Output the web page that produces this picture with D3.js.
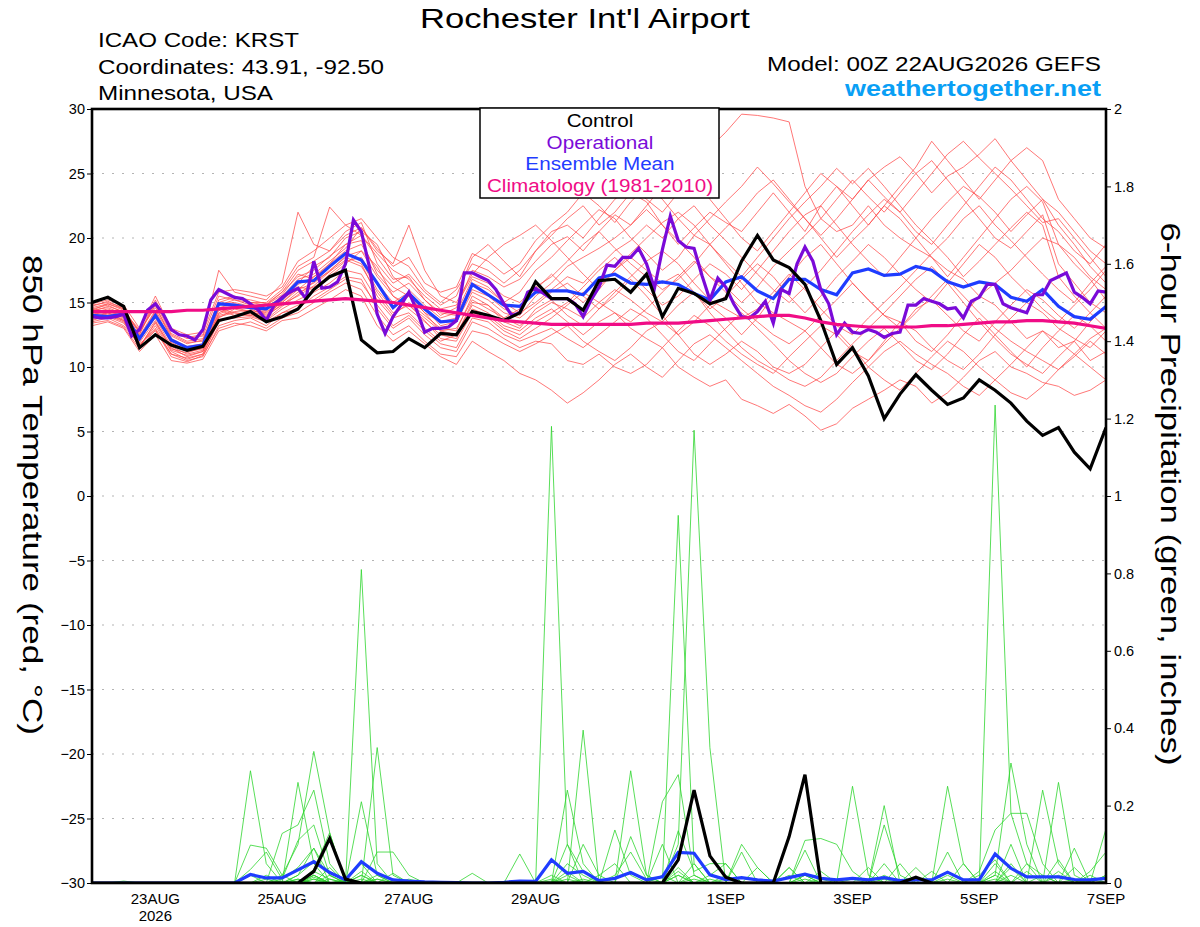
<!DOCTYPE html>
<html>
<head>
<meta charset="utf-8">
<script src="https://cdn.jsdelivr.net/npm/d3@7"></script>
<style>
  body { margin: 0; background: #fff; }
  text { font-family: "Liberation Sans", Arial, Helvetica, sans-serif; }
</style>
</head>
<body>
<svg id="chart" width="1200" height="927"></svg>
<script>
// run info
const RUN_START = Date.UTC(2026, 7, 22, 0);
const RUN_END = Date.UTC(2026, 8, 7, 0);

// x-axis ticks
const tickDates = [[2026, 7, 23], [2026, 7, 25], [2026, 7, 27], [2026, 7, 29], [2026, 8, 1], [2026, 8, 3], [2026, 8, 5], [2026, 8, 7]];
const tickLabels = ['23AUG', '25AUG', '27AUG', '29AUG', '1SEP', '3SEP', '5SEP', '7SEP'];
const tempTicks = [-30, -25, -20, -15, -10, -5, 0, 5, 10, 15, 20, 25, 30];
const precipTicks = [0, 0.2, 0.4, 0.6, 0.8, 1, 1.2, 1.4, 1.6, 1.8, 2];

// 6-hourly control / mean / climatology (850 hPa temp, C)
const controlTemp = [15.0,15.4,14.7,11.5,12.5,11.7,11.3,11.6,13.6,13.9,
  14.3,13.5,13.9,14.5,16.0,17.0,17.5,12.1,11.1,11.2,
  12.2,11.5,12.6,12.5,14.3,14.0,13.6,14.2,16.6,15.3,
  15.3,14.4,16.7,16.8,15.8,17.2,13.9,16.1,15.7,14.9,
  15.3,18.2,20.2,18.3,17.7,16.4,13.6,10.2,11.5,9.3,
  6.0,7.9,9.4,8.2,7.1,7.6,9.0,8.2,7.2,5.8,
  4.7,5.3,3.4,2.1,5.3];

const meanTemp = [14.0,13.9,14.1,12.2,14.0,12.1,11.5,11.7,14.9,14.8,
  14.6,14.5,15.3,16.6,16.7,17.8,18.8,18.3,16.5,14.6,
  15.7,14.5,13.5,13.6,16.4,15.6,14.8,14.7,15.8,15.9,
  15.9,15.6,16.9,17.2,16.5,16.4,16.6,16.4,15.7,15.2,
  16.6,17.0,15.9,15.3,16.8,16.8,16.0,15.6,17.3,17.6,
  17.1,17.2,17.8,17.5,16.6,16.2,16.6,16.4,15.4,15.1,
  16.0,14.7,13.9,13.7,14.7];

const climoTemp = [14.3,14.3,14.3,14.3,14.3,14.3,14.4,14.4,14.5,14.6,
  14.7,14.8,14.9,15.0,15.1,15.2,15.3,15.2,15.1,15.0,
  14.8,14.6,14.4,14.2,14.0,13.8,13.6,13.5,13.4,13.3,
  13.3,13.3,13.3,13.3,13.3,13.4,13.4,13.4,13.5,13.6,
  13.7,13.8,13.9,14.0,14.0,13.8,13.5,13.3,13.2,13.1,
  13.1,13.1,13.1,13.2,13.2,13.3,13.4,13.5,13.5,13.6,
  13.6,13.5,13.4,13.2,13.0];

// 3-hourly operational run
const operationalTemp = [13.9,13.8,13.8,13.9,14.1,12.4,12.9,14.4,14.9,14.1,
  12.9,12.5,12.4,12.1,12.9,15.2,16.0,15.7,15.4,15.3,
  14.9,14.4,13.6,14.8,15.4,15.8,16.1,15.3,18.2,16.1,
  16.2,16.6,18.0,21.4,20.5,17.8,14.1,12.6,13.9,14.8,
  15.8,14.4,12.7,13.0,13.0,13.1,13.6,17.3,17.3,17.0,
  16.7,16.0,14.9,14.0,14.2,15.8,16.1,15.7,15.3,15.3,
  15.3,14.9,13.9,15.2,16.2,17.9,17.8,18.5,18.5,19.2,
  18.0,16.1,19.1,21.7,19.8,19.3,19.2,17.1,15.2,16.9,
  16.2,14.9,13.9,13.8,14.3,15.1,13.4,16.0,15.7,18.0,
  19.3,18.2,16.0,14.9,12.5,13.4,12.7,12.6,12.9,12.7,
  12.3,12.6,12.7,14.8,14.8,15.3,15.1,14.9,14.5,14.6,
  13.8,15.1,15.4,16.4,16.4,14.9,14.6,14.4,14.2,15.6,
  15.6,16.7,17.0,17.3,15.8,15.4,14.9,15.9,15.8];

// 6-hour precipitation (inches)
const controlPrecip = [0,0,0,0,0,0,0,0,0,0,
  0,0,0,0,0.03,0.115,0.01,0,0,0,
  0,0,0,0,0,0,0,0,0,0,
  0,0,0,0,0,0,0,0.06,0.24,0.07,
  0.015,0,0,0,0.12,0.28,0,0,0,0,
  0,0,0.015,0,0,0,0,0,0,0,
  0,0,0,0,0];

const meanPrecip = [0,0,0,0,0,0,0,0,0,0,
  0.022,0.013,0.013,0.034,0.055,0.027,0.008,0.055,0.025,0.008,
  0.005,0.003,0.002,0.001,0,0,0.002,0.005,0.004,0.06,
  0.025,0.03,0.006,0.012,0.027,0.008,0.016,0.079,0.077,0.021,
  0.009,0.014,0.008,0.005,0.014,0.023,0.012,0.008,0.012,0.008,
  0.014,0.006,0.008,0.008,0.028,0.008,0.008,0.075,0.038,0.016,
  0.016,0.016,0.009,0.008,0.012];

// ensemble members, 850 hPa temperature
const tempMembers = [
  [14.5,14.8,14.2,12.8,14.6,12.5,11.9,12.0,15.2,15.5,15.0,14.8,15.8, 17.0,17.5,18.6,19.5,19.8,17.2,15.8,16.5,15.2,
   14.0,14.6,17.5,17.0,16.2,16.8,18.2,19.5,20.1,19.0,20.5,21.8,21.0,22.5,24.0,23.2,25.5,27.0,28.2,
   29.6,29.5,29.3,29.0,24.0,21.5,20.5,21.0,22.5,21.0,20.0,19.2,18.5,17.5,16.8,15.5,14.8,13.5,12.2,12.8,11.5,12.0,10.5,11.2],
  [14.2,14.5,14.0,12.5,15.2,12.8,12.3,12.5,17.5,15.8,15.5,15.2,16.5, 22.0,19.5,19.0,20.5,21.2,18.0,16.5,17.2,15.8,
   14.8,15.5,18.5,19.5,18.2,17.0,19.0,20.2,21.5,22.5,21.0,22.0,23.5,22.8,21.0,19.5,20.8,22.0,21.2,
   20.5,22.0,23.5,22.0,20.5,22.5,24.0,23.0,24.5,25.5,26.3,25.0,23.5,24.8,25.5,26.5,27.7,26.0,24.5,23.0,22.0,20.5,19.0,18.0],
  [13.5,13.8,13.2,11.8,12.8,11.0,10.5,10.8,13.2,13.6,13.8,13.2,14.2, 14.5,15.5,16.2,17.0,16.8,14.5,13.0,13.8,12.5,
   11.5,11.2,13.5,13.0,12.2,11.5,12.0,11.8,10.5,10.2,11.0,10.0,9.5,10.2,11.5,10.0,9.2,8.5,9.0,
   7.5,7.0,6.4,7.1,6.2,5.1,5.6,6.8,7.5,8.2,9.0,8.5,7.2,8.0,9.2,10.5,11.2,10.0,9.5,8.8,8.5,7.8,8.2,9.0],
  [14.8,15.0,14.6,12.2,14.0,12.0,11.5,11.6,14.5,14.2,14.0,14.3,15.0, 16.0,16.5,17.5,18.5,18.0,15.5,14.0,15.0,14.0,
   13.0,12.8,15.5,14.8,13.5,13.0,14.5,15.2,14.0,13.2,14.5,15.5,16.8,15.5,14.0,12.5,13.5,14.8,13.8,
   12.5,13.8,15.5,17.0,18.5,19.5,18.0,16.5,15.2,14.0,13.5,12.0,11.2,12.5,14.0,15.5,16.5,17.5,18.8,20.0,19.5,18.5,17.0,16.0],
  [13.8,14.2,13.6,11.5,13.5,11.5,10.8,11.2,13.8,14.5,14.2,13.8,15.2, 16.5,17.8,18.5,20.0,20.5,19.5,17.0,16.0,14.8,
   13.8,14.2,16.8,16.2,15.0,15.8,17.5,18.5,19.8,21.0,22.2,21.5,20.0,18.8,17.5,18.5,20.2,19.5,18.0,
   16.5,15.0,14.2,13.5,12.8,11.5,10.2,9.5,10.5,12.0,13.5,12.8,11.5,10.5,9.8,11.0,12.5,13.8,15.0,14.2,13.0,12.2,11.5,12.8],
  [14.0,14.2,13.8,12.0,14.2,11.8,11.2,11.4,14.2,14.8,14.5,14.0,14.8, 15.8,16.2,17.0,18.0,19.0,17.8,15.5,14.5,13.5,
   12.5,12.2,14.5,14.0,13.0,12.5,13.5,14.2,15.0,16.2,17.5,18.5,17.2,16.0,14.8,15.5,16.8,18.0,17.2,
   16.0,17.5,19.0,20.5,21.8,22.5,21.0,19.5,18.2,17.0,18.5,20.0,21.5,22.8,24.0,23.2,22.0,20.5,21.8,23.0,21.0,19.5,17.8,16.5],
  [14.6,14.9,14.4,12.6,14.8,12.2,11.6,11.8,14.8,15.2,14.8,14.6,15.5, 16.8,17.2,18.2,19.2,20.8,19.0,18.0,21.0,17.5,
   15.5,15.0,17.2,18.5,19.5,20.2,21.0,19.8,18.5,17.2,16.0,17.5,18.8,20.0,21.2,22.0,21.0,19.5,18.2,
   17.0,18.5,20.0,21.5,22.8,24.0,25.4,24.2,25.4,24.0,22.5,21.0,19.8,18.5,17.0,18.2,19.5,20.8,22.0,21.0,17.0,15.5,14.2,13.0],
  [13.2,13.5,13.0,11.2,12.5,10.5,10.3,10.6,12.8,13.2,13.5,13.0,13.8, 14.2,15.0,15.8,16.5,16.0,14.0,12.5,13.2,12.0,
   11.0,10.8,12.8,12.5,11.8,11.2,11.8,12.5,13.2,12.0,11.2,10.5,11.5,12.8,13.5,12.5,11.0,10.2,11.0,
   12.0,11.2,10.0,9.5,10.2,11.5,12.8,11.5,10.0,9.0,8.2,9.5,10.8,12.0,11.2,10.0,9.0,8.0,7.5,8.5,9.8,11.0,12.2,13.0],
  [14.4,14.6,14.1,12.4,14.4,12.4,11.8,12.1,14.9,15.0,14.7,14.8,15.6, 17.2,16.8,18.0,19.0,19.5,17.5,16.2,15.5,14.2,
   13.5,13.8,16.0,15.5,14.5,14.0,15.5,16.5,17.8,18.5,19.2,20.0,21.0,22.2,21.0,19.8,18.5,17.0,16.2,
   15.0,16.2,17.8,19.0,20.2,21.5,23.0,24.5,23.2,22.0,23.5,25.0,26.0,24.5,23.0,21.5,20.0,19.2,20.5,21.8,18.0,16.5,15.0,14.2],
  [13.6,14.0,13.5,11.6,13.2,11.2,10.6,11.0,13.5,14.0,14.0,13.6,14.5, 15.2,15.8,16.5,17.5,17.2,15.2,13.8,14.2,13.0,
   12.0,12.5,14.8,14.2,13.2,12.8,13.8,14.5,13.5,12.5,13.5,14.2,13.0,12.2,11.5,12.8,14.0,13.2,12.0,
   11.0,10.2,9.5,10.8,12.0,13.2,12.5,11.2,10.5,11.8,13.0,14.5,15.2,14.0,12.8,12.0,13.5,14.8,16.0,15.2,14.0,13.0,14.2,15.5],
  [14.9,15.2,14.8,13.0,15.0,12.8,12.2,12.4,15.5,15.2,15.0,15.0,16.0, 17.8,18.5,22.4,21.0,21.5,20.0,18.5,17.8,16.0,
   15.0,16.0,18.0,17.5,16.5,17.5,19.0,20.5,21.0,20.0,21.5,23.0,24.0,23.0,22.0,23.5,24.5,23.0,21.5,
   20.0,19.0,20.5,22.0,23.5,25.0,24.0,22.5,21.0,22.5,24.0,25.5,27.5,26.0,24.5,23.0,24.5,26.0,27.0,26.0,23.0,21.5,20.0,19.2],
  [14.1,14.3,13.9,12.1,13.8,11.6,11.0,11.3,14.0,14.3,14.4,14.1,15.0, 16.2,16.0,17.2,18.2,18.5,16.5,15.0,15.8,14.6,
   13.2,13.5,15.8,15.2,14.2,13.8,14.8,15.8,16.5,15.5,14.5,15.8,17.0,18.2,19.0,18.0,16.5,15.2,14.5,
   13.8,14.5,15.8,17.2,16.0,14.5,13.2,12.5,13.8,15.0,16.2,17.5,18.8,20.0,21.5,22.5,21.0,19.8,18.5,17.2,16.0,15.0,16.5,17.8],
  [13.4,13.6,13.1,11.4,12.9,10.8,10.4,10.9,13.0,13.4,13.2,12.8,13.6, 13.8,14.5,15.2,16.0,15.5,13.2,12.0,12.8,11.8,
   10.8,10.2,12.0,11.2,10.5,9.5,9.0,8.2,7.2,8.0,9.0,10.2,11.0,10.0,9.2,10.5,11.8,12.5,11.5,
   10.5,9.5,8.5,7.8,7.0,6.5,7.5,8.8,10.0,11.2,12.0,11.0,10.2,9.5,8.5,7.8,9.0,10.2,11.5,12.8,12.0,11.0,10.0,9.0],
  [14.3,14.7,14.3,12.9,15.5,13.0,12.5,12.7,15.8,16.0,15.8,15.5,16.2, 18.2,19.0,20.0,21.0,20.2,18.8,17.5,16.8,15.5,
   14.5,14.8,17.0,16.5,15.5,15.0,16.2,17.0,18.2,19.5,20.5,19.2,18.0,17.0,16.0,16.8,18.0,19.5,20.8,
   22.0,23.5,24.5,23.0,21.5,20.0,18.5,19.8,21.0,22.5,21.5,20.0,18.5,17.0,18.5,20.0,21.5,23.0,24.0,22.8,19.5,18.0,16.8,15.2],
  [13.9,14.1,13.7,11.9,13.6,11.4,11.1,11.5,14.4,14.0,14.2,14.4,15.4, 16.0,17.0,17.8,18.8,18.2,16.0,14.5,15.5,14.2,
   12.8,13.0,15.2,14.5,13.8,14.5,16.0,17.2,16.0,15.0,16.2,17.5,18.5,17.5,16.5,17.2,15.8,14.5,15.5,
   16.8,18.0,17.0,15.5,14.2,15.5,17.0,18.2,19.5,18.5,17.2,16.0,15.0,16.5,18.0,19.5,18.5,17.0,15.8,14.5,13.5,14.8,16.0,17.5],
  [13.7,13.9,13.4,11.7,13.0,11.0,10.7,11.0,13.6,13.8,13.9,13.5,14.2, 14.8,15.2,16.0,16.8,16.5,14.8,13.2,14.0,12.8,
   11.8,11.5,13.8,13.5,12.5,12.0,12.5,13.0,12.2,11.5,12.5,13.5,14.5,13.8,12.5,11.2,10.5,11.8,13.0,
   14.2,13.0,11.8,10.5,9.5,8.8,9.5,10.8,12.0,13.0,11.8,10.5,9.8,11.0,12.5,13.8,12.5,11.2,10.0,11.5,12.8,14.0,13.2,12.0],
  [14.7,15.1,14.5,12.3,14.3,12.1,11.4,11.7,14.6,14.9,14.6,14.2,15.1, 16.4,17.0,18.0,19.5,20.2,18.5,16.8,17.0,15.2,
   14.2,14.0,16.5,16.0,15.0,14.2,15.0,16.0,17.0,16.5,17.8,19.0,19.8,21.0,20.0,21.5,22.5,21.0,19.8,
   18.5,17.2,16.0,15.0,16.2,17.5,19.0,20.5,21.8,23.0,22.0,20.5,19.5,21.0,22.5,24.0,25.5,24.5,23.0,21.5,20.5,19.0,18.0,19.5],
  [14.0,14.4,13.9,12.2,14.1,11.9,11.3,11.5,14.1,14.6,14.3,13.9,14.9, 15.5,16.3,17.4,18.3,17.8,15.8,14.2,14.8,13.8,
   12.8,12.5,15.0,14.8,13.8,13.2,14.2,15.0,14.5,13.8,15.0,16.0,15.2,14.2,13.5,14.8,15.8,14.2,12.8,
   11.5,10.5,9.8,9.0,8.5,9.2,10.5,11.8,13.0,14.2,15.5,16.8,17.8,16.5,15.0,13.5,12.2,11.0,10.2,9.5,10.8,12.0,13.5,14.8],
  [14.4,14.9,14.5,12.7,14.9,12.6,12.0,12.2,15.0,15.4,15.2,14.9,15.8, 17.5,18.2,19.0,20.2,20.8,19.2,17.8,18.5,16.5,
   15.8,16.2,18.8,18.2,17.2,18.0,19.8,21.0,22.0,23.5,22.5,21.2,22.8,24.0,23.0,21.5,20.2,21.5,22.8,
   24.0,25.5,24.2,22.8,21.5,20.2,21.5,23.0,24.5,23.2,22.0,23.5,25.0,26.5,27.5,26.2,25.0,23.8,22.5,21.2,21.5,20.0,18.5,17.0],
  [13.8,14.0,13.6,11.6,13.4,11.3,10.9,11.2,13.9,14.2,14.1,13.7,14.7, 15.6,16.6,17.4,18.6,19.0,17.0,15.5,14.8,13.6,
   12.2,12.0,14.2,13.8,12.8,12.2,13.0,13.8,14.8,15.8,15.0,14.2,13.5,14.5,15.8,17.0,18.2,17.0,15.8,
   14.5,13.5,12.5,11.8,12.8,14.0,15.2,16.5,15.2,14.0,13.0,14.2,15.5,16.8,15.5,14.2,13.0,12.0,11.2,10.5,9.8,10.8,12.0,11.0]
];

// ensemble members, 6-hour precipitation
const precipMembers = [
  [0,0,0,0,0,0,0,0,0,0, .29,.05,0,0,0,0,0,.81,.05,0, 0,0,0,0,0,0,0,0,0,0,
   .02,0,0,0,0,0,0,.1,1.17,.35, 0,0,0,0,0,.02,0,0,0,0, 0,0,0,0,0,0,0,.02,.31,.1, 0,0,0,0,0],
  [0,0,0,0,0,0,0,0,0,0, 0,0,0,.26,.05,0,0,0,.35,.02, 0,0,0,0,0,0,0,0,0,1.18,
   .1,0,0,0,0,0,0,.02,0,0, 0,0,0,0,0,0,0,0,0,0, .2,0,0,0,0,0,0,1.235,.18,.05, 0,0,0,0,0],
  [0,0,0,0,0,0,0,0,0,0, .098,.09,.02,.1,.34,.13,0,0,0,0, 0,0,0,0,0,0,0,0,0,0,
   0,.395,0,0,0,0,0,0,0,0, 0,0,0,0,.04,0,0,0,0,0, 0,0,0,0,.25,.05,0,0,0,0, 0,0,.09,0,0],
  [0,0,0,0,0,0,0,0,0,0, 0,0,.128,.15,.24,.05,0,.21,.02,0, 0,0,0,0,0,0,0,0,0,0,
   .24,.05,0,0,.29,.02,0,0,0,0, 0,0,0,0,0,0,0,0,0,0, .15,.02,0,0,0,0,0,0,0,0, 0,.26,.02,0,0],
  [0,0,0,0,0,0,0,0,0,0, .035,.08,.01,.11,.15,.02,0,0,0,0, 0,0,0,0,.025,0,0,0,0,0,
   0,0,0,.137,.02,0,0,.95,.05,0, 0,0,0,0,0,0,0,0,.25,.02, 0,0,0,0,0,0,0,0,0,0, .24,.05,0,0,0],
  [0,0,0,0,0,0,0,0,0,0, 0,.01,0,.02,.09,.02,0,0,.08,.08, .02,0,0,0,0,0,0,.075,0,0,
   0,0,0,0,0,0,.21,.28,.02,0, 0,0,0,0,0,.11,.115,.1,.03,0, 0,0,0,0,0,0,.03,.137,.18,.18, .05,0,0,0,0],
  [0,0,0,0,0,0,0,0,0,0, 0,0,0,0,.035,.13,0,.02,0,0, 0,0,0,0,0,0,0,0,0,0,
   .1,.03,0,0,.12,.02,0,0,0,0, 0,.1,.04,0,0,0,0,0,0,0, 0,0,0,0,.08,0,0,0,0,0, 0,0,0,0,.14],
  [0,0,0,0,0,0,0,0,0,0, .02,0,0,.02,.055,.03,0,0,.02,0, 0,0,0,0,0,0,0,0,0,.01,
   0,0,0,0,0,0,0,.135,.03,.05, .05,0,0,0,0,0,0,0,0,0, .02,0,0,0,0,0,0,.05,0,0, 0,0,0,.03,.08],
  [0,0,0,0,0,0,0,0,0,0, 0,0,.02,0,.02,0,.01,0,0,.025, 0,0,0,0,0,0,0,0,0,0,
   0,0,.02,.05,0,0,.1,0,0,0, 0,.08,0,0,.04,0,0,0,0,0, 0,0,0,.03,0,0,0,0,.1,0, 0,.03,0,0,0],
  [0,0,0,0,0,0,0,0,0,0, 0,0,0,.01,0,.02,0,.02,0,0, .01,0,0,0,0,0,0,0,0,0,
   0,0,0,.02,.08,.01,0,0,0,0, .02,0,0,0,0,.085,0,0,0,.04, 0,0,.04,0,0,0,0,0,0,.05, .02,0,0,0,0],
  [0,0,0,0,0,0,0,0,0,0, 0,.02,0,0,.03,.01,0,0,.01,0, 0,0,0,0,0,0,0,0,0,0,
   .05,.02,0,0,0,0,0,0,.05,0, 0,0,.04,0,0,0,0,0,0,0, 0,.05,0,0,0,.05,0,0,0,0, 0,0,.04,0,.02],
  [0,0,0,0,0,0,0,0,0,0, 0,0,.01,.04,.09,0,.005,.05,0,0, 0,0,0,0,0,0,0,0,0,0,
   0,.1,.02,0,0,0,0,0,0,.02, .05,0,0,0,0,0,.03,0,0,0, .05,0,0,0,0,0,.02,.06,0,0, 0,.06,0,.02,0],
  [0,0,.005,0,0,0,0,0,0,0, 0,0,0,0,.02,0,0,.01,0,0, 0,0,0,0,0,0,0,0,0,.005,
   0,0,0,0,0,0,0,.04,0,0, 0,0,0,0,.02,0,0,0,0,0, 0,0,0,0,.02,0,0,0,.04,0, 0,0,0,0,0],
  [0,0,0,0,0,0,0,0,0,0, 0,0,0,.005,0,.04,0,0,0,0, 0,0,0,0,0,0,0,0,0,0,
   .03,0,0,0,0,0,0,0,.02,0, 0,0,0,0,0,.01,0,0,0,0, 0,0,0,0,0,0,0,.03,0,0, .02,0,0,0,0],
  [0,0,0,0,0,0,0,0,0,0, 0,0,0,0,.01,0,0,0,.01,0, 0,0,0,0,0,0,0,0,0,0,
   0,.01,0,0,0,0,0,.03,0,0, 0,0,0,0,0,0,0,0,0,0, .01,0,0,0,0,0,0,0,.05,0, 0,0,.01,0,0],
  [0,0,0,0,0,0,0,0,0,0, 0,0,.005,0,.015,0,0,0,0,0, 0,0,0,0,0,0,0,0,0,0,
   .01,0,0,0,0,0,.02,0,0,0, 0,0,0,0,0,0,0,0,.01,0, 0,0,0,0,0,0,0,0,0,.03, 0,0,0,0,0],
  [0,0,0,0,0,0,0,0,0,0, 0,0,0,0,0,.01,0,.03,0,0, 0,0,0,0,0,0,0,0,0,0,
   0,0,0,0,0,0,0,0,.01,0, 0,0,0,0,0,.02,0,0,0,0, 0,0,0,0,0,0,0,.02,0,0, 0,0,0,.01,0],
  [0,0,0,0,0,0,0,0,0,0, 0,0,0,0,.02,0,0,0,0,0, 0,0,0,0,0,0,0,0,0,.02,
   0,0,0,0,0,0,0,0,0,.01, 0,0,0,0,0,0,0,0,0,0, 0,0,0,0,.01,0,0,0,0,0, 0,.02,0,0,0],
  [0,0,0,0,0,0,0,0,0,0, 0,0,0,.01,0,0,.005,0,0,0, 0,0,0,0,0,0,0,0,0,0,
   0,0,0,0,0,0,0,.02,0,0, 0,0,0,0,0,0,.01,0,0,0, 0,0,0,0,0,0,0,0,.02,0, 0,0,0,0,0],
  [0,0,0,0,0,0,0,0,0,0, 0,0,0,0,.01,0,0,0,0,0, 0,0,0,0,0,0,0,0,0,0,
   0,.005,0,0,0,0,0,0,0,0, .01,0,0,0,0,0,0,0,0,0, 0,0,0,0,0,0,0,.01,0,0, 0,0,0,0,.02]
];

// layout
const width = 1200;
const height = 927;
const margin = { top: 109, right: 94, bottom: 44, left: 92 };
const plotW = width - margin.left - margin.right;
const plotH = height - margin.top - margin.bottom;
const HOUR = 3600 * 1000;

const svg = d3.select('#chart');

const x = d3.scaleUtc()
  .domain([new Date(RUN_START), new Date(RUN_END)])
  .range([margin.left, margin.left + plotW]);
const yT = d3.scaleLinear().domain([-30, 30]).range([margin.top + plotH, margin.top]);
const yP = d3.scaleLinear().domain([0, 2]).range([margin.top + plotH, margin.top]);

const lineT = (stepHours) => d3.line()
  .x((d, i) => x(new Date(RUN_START + i * stepHours * HOUR)))
  .y(d => yT(d));
const lineP = d3.line()
  .x((d, i) => x(new Date(RUN_START + i * 6 * HOUR)))
  .y(d => yP(d));

// the reference lettering runs wide, so stretch text to the measured widths
const fit = (sel, len) => sel.attr('textLength', len).attr('lengthAdjust', 'spacingAndGlyphs');

svg.append('defs').append('clipPath').attr('id', 'plot-clip')
  .append('rect')
  .attr('x', margin.left).attr('y', margin.top)
  .attr('width', plotW).attr('height', plotH);

// dotted grid every 5 degrees
svg.append('g')
  .selectAll('line')
  .data(tempTicks.filter(t => t > -30 && t < 30))
  .enter().append('line')
  .attr('x1', margin.left).attr('x2', margin.left + plotW)
  .attr('y1', d => yT(d)).attr('y2', d => yT(d))
  .attr('stroke', '#b4b4b4')
  .attr('stroke-width', 1.2)
  .attr('stroke-dasharray', '2,8');

const plot = svg.append('g').attr('clip-path', 'url(#plot-clip)');

plot.selectAll('.temp-member')
  .data(tempMembers)
  .enter().append('path')
  .attr('class', 'temp-member')
  .attr('d', lineT(6))
  .attr('fill', 'none')
  .attr('stroke', '#ff4a4a')
  .attr('stroke-width', 0.75);

plot.selectAll('.precip-member')
  .data(precipMembers)
  .enter().append('path')
  .attr('class', 'precip-member')
  .attr('d', lineP)
  .attr('fill', 'none')
  .attr('stroke', '#2fd62f')
  .attr('stroke-width', 0.8);

const thick = (data, gen, color) => plot.append('path')
  .datum(data)
  .attr('d', gen)
  .attr('fill', 'none')
  .attr('stroke', color)
  .attr('stroke-width', 3.2)
  .attr('stroke-linejoin', 'miter');

thick(meanPrecip, lineP, '#1f3cff');
thick(controlPrecip, lineP, '#000');
thick(meanTemp, lineT(6), '#1f3cff');
thick(operationalTemp, lineT(3), '#7a0ad8');
thick(controlTemp, lineT(6), '#000');
thick(climoTemp, lineT(6), '#f00c86');

// frame
svg.append('rect')
  .attr('x', margin.left).attr('y', margin.top)
  .attr('width', plotW).attr('height', plotH)
  .attr('fill', 'none')
  .attr('stroke', '#000')
  .attr('stroke-width', 2.6);

// axes
const leftAxis = svg.append('g')
  .attr('transform', `translate(${margin.left},0)`)
  .call(d3.axisLeft(yT).tickValues(tempTicks).tickSize(5).tickPadding(2));
const rightAxis = svg.append('g')
  .attr('transform', `translate(${margin.left + plotW},0)`)
  .call(d3.axisRight(yP).tickValues(precipTicks).tickSize(5).tickPadding(3)
    .tickFormat(d => String(+d.toFixed(1))));
[leftAxis, rightAxis].forEach(a => {
  a.select('.domain').remove();
  a.selectAll('text').attr('font-size', 14.5).attr('fill', '#000')
    .style('font-family', '"Liberation Sans", Arial, sans-serif');
  a.selectAll('line').attr('stroke', '#000');
});

const xTicks = svg.append('g');
tickDates.forEach((d, k) => {
  const px = x(new Date(Date.UTC(d[0], d[1], d[2])));
  xTicks.append('text')
    .attr('x', px).attr('y', 904)
    .attr('text-anchor', 'middle')
    .attr('font-size', 15)
    .text(tickLabels[k]);
  if (k === 0) {
    xTicks.append('text')
      .attr('x', px).attr('y', 921)
      .attr('text-anchor', 'middle')
      .attr('font-size', 15)
      .text(String(d[0]));
  }
});

// titles
fit(svg.append('text')
  .attr('x', 585).attr('y', 28)
  .attr('text-anchor', 'middle')
  .attr('font-size', 28)
  .text("Rochester Int'l Airport"), 330);

const info = ['ICAO Code: KRST', 'Coordinates: 43.91, -92.50', 'Minnesota, USA'];
const infoWidths = [201, 286, 175];
svg.append('g').selectAll('text')
  .data(info)
  .enter().append('text')
  .attr('x', 98)
  .attr('y', (d, i) => 47 + i * 26.5)
  .attr('font-size', 20)
  .attr('textLength', (d, i) => infoWidths[i])
  .attr('lengthAdjust', 'spacingAndGlyphs')
  .text(d => d);

fit(svg.append('text')
  .attr('x', 1101).attr('y', 71)
  .attr('text-anchor', 'end')
  .attr('font-size', 20)
  .text('Model: 00Z 22AUG2026 GEFS'), 334);
fit(svg.append('text')
  .attr('x', 1101).attr('y', 96)
  .attr('text-anchor', 'end')
  .attr('font-size', 22)
  .attr('font-weight', 'bold')
  .attr('fill', '#0a9ff5')
  .text('weathertogether.net'), 256);

fit(svg.append('text')
  .attr('transform', 'translate(33,495) rotate(90)')
  .attr('text-anchor', 'middle')
  .attr('dy', '0.35em')
  .attr('font-size', 28)
  .text('850 hPa Temperature (red, °C)'), 480);
fit(svg.append('text')
  .attr('transform', 'translate(1171,494) rotate(90)')
  .attr('text-anchor', 'middle')
  .attr('dy', '0.35em')
  .attr('font-size', 28)
  .text('6-hour Precipitation (green, inches)'), 543);

// legend
const legendItems = [
  { label: 'Control', color: '#000' },
  { label: 'Operational', color: '#7a0ad8' },
  { label: 'Ensemble Mean', color: '#1f3cff' },
  { label: 'Climatology (1981-2010)', color: '#f00c86' }
];
const legend = svg.append('g');
legend.append('rect')
  .attr('x', 480).attr('y', 108)
  .attr('width', 239).attr('height', 90)
  .attr('fill', '#fff')
  .attr('stroke', '#000')
  .attr('stroke-width', 1.5);
legend.selectAll('text')
  .data(legendItems)
  .enter().append('text')
  .attr('x', 600)
  .attr('y', (d, i) => 127 + i * 21.5)
  .attr('text-anchor', 'middle')
  .attr('font-size', 17.5)
  .attr('fill', d => d.color)
  .text(d => d.label)
  .each(function () {
    fit(d3.select(this), this.getComputedTextLength() * 1.18);
  });
</script>
</body>
</html>
